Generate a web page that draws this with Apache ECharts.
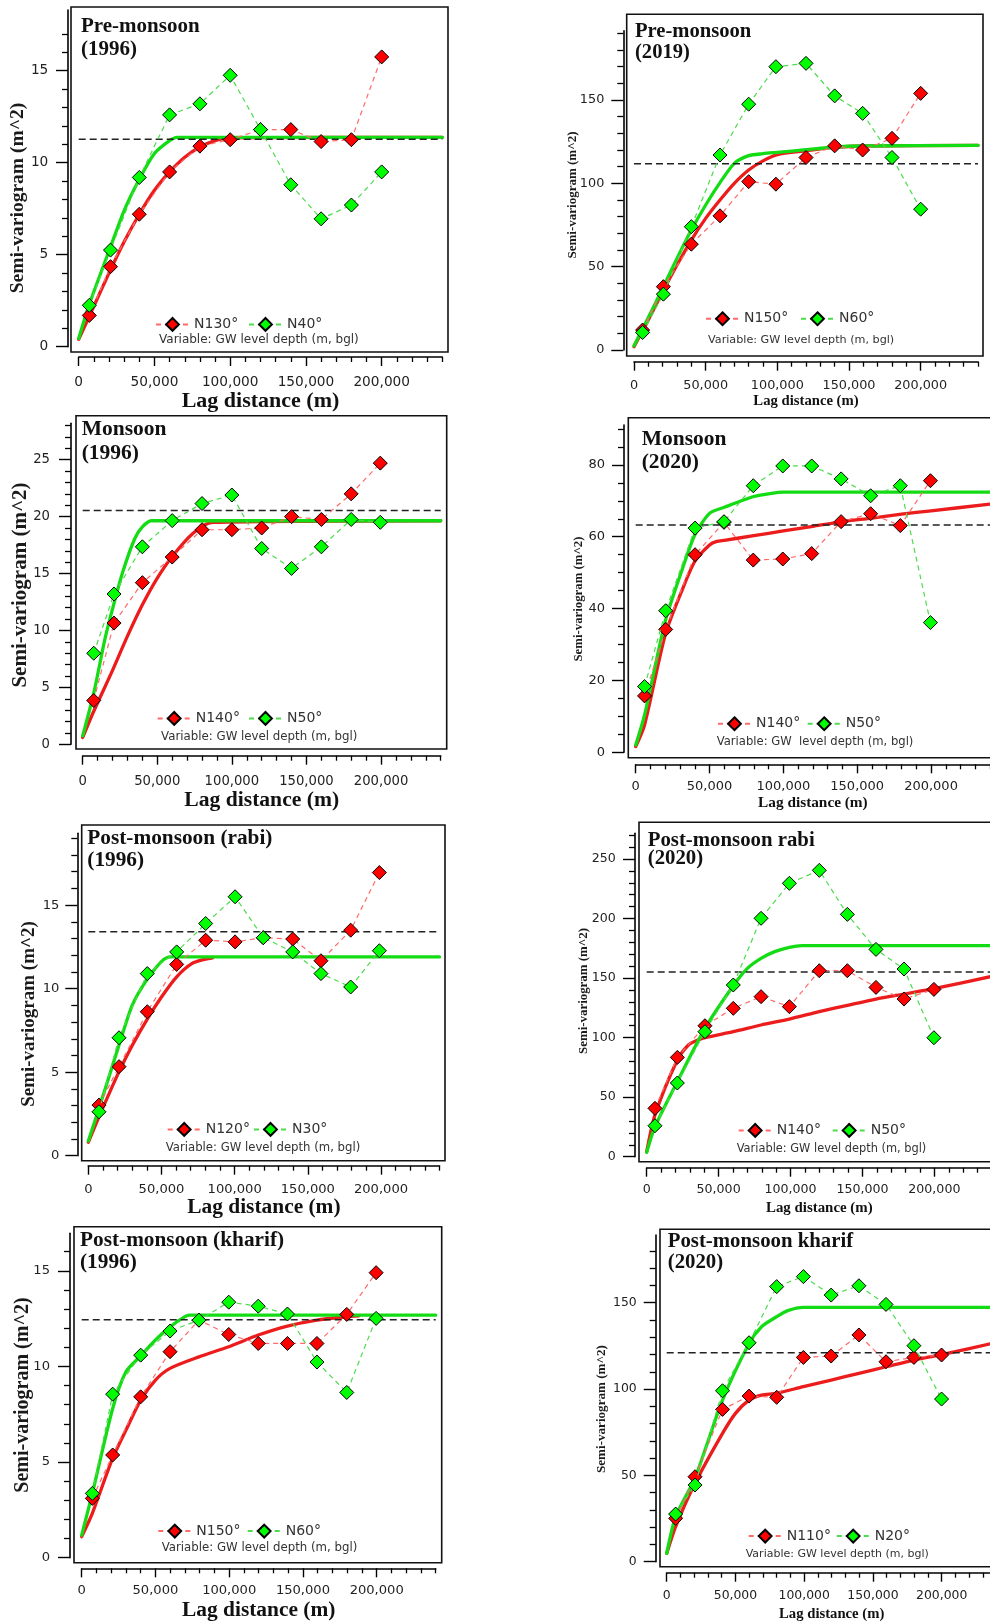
<!DOCTYPE html>
<html><head><meta charset="utf-8">
<script src="https://cdn.jsdelivr.net/npm/echarts@6/dist/echarts.min.js"></script>
<style>html,body{margin:0;padding:0;background:#fff}#c{width:990px;height:1624px}</style>
</head><body><div id="c"></div>
<script>
// ---------- DATA ----------
const xMajorTicks = [0, 50000, 100000, 150000, 200000];
const xName = 'Lag distance (m)';
const yName = 'Semi-variogram (m^2)';

// Panel 1: Pre-monsoon (1996)
const lags1 = [7000, 21000, 40000, 60000, 80000, 100000, 120000, 140000, 160000, 180000, 200000];
const n130 = [1.7, 4.35, 7.2, 9.5, 10.9, 11.25, 11.8, 11.8, 11.15, 11.25, 15.75];
const n40 = [2.25, 5.25, 9.2, 12.6, 13.2, 14.75, 11.8, 8.8, 6.95, 7.7, 9.5];
const sill1 = 11.27;
const fitRedX1 = [0, 10000, 20000, 30000, 40000, 50000, 60000, 70000, 80000, 90000, 100000, 240000];
const fitRedY1 = [0.4, 2.2, 4.0, 5.7, 7.2, 8.5, 9.5, 10.3, 10.85, 11.2, 11.35, 11.38];
const fitGreenX1 = [0, 7000, 20000, 30000, 40000, 50000, 60000, 65000, 240000];
const fitGreenY1 = [0.45, 2.3, 5.2, 7.4, 9.1, 10.5, 11.2, 11.38, 11.38];

// Panel 2: Pre-monsoon (2019)
const lags2 = [6000, 20500, 40000, 60000, 80000, 99000, 120000, 140000, 159500, 180000, 200000];
const n150a = [12, 38, 63.5, 80.5, 101, 99.5, 115.5, 122.5, 120, 127, 154];
const n60a = [10.5, 33.5, 74, 117, 147.5, 170, 172, 152.5, 142, 115.5, 84.5];
const sill2 = 111.8;
const fitRedX2 = [0, 10000, 20000, 30000, 40000, 50000, 60000, 70000, 80000, 90000, 100000, 120000, 140000, 160000, 240000];
const fitRedY2 = [2, 18, 35, 51, 66, 79, 90, 100, 108, 113.5, 117.3, 119.5, 121.6, 122.4, 122.8];
const fitGreenX2 = [0, 10000, 20000, 30000, 40000, 50000, 60000, 70000, 80000, 90000, 100000, 120000, 140000, 160000, 240000];
const fitGreenY2 = [2.6, 19.5, 37, 55, 72, 87, 100.4, 112, 116.6, 117.8, 118.6, 120.2, 121.8, 122.4, 122.8];

// Panel 3: Monsoon (1996)
const lags3 = [7400, 21000, 40000, 60000, 80000, 100000, 120000, 140000, 160000, 180000, 199500];
const n140a = [3.85, 10.65, 14.2, 16.45, 18.85, 18.85, 19.0, 20.0, 19.75, 22.0, 24.7];
const n50a = [8.0, 13.2, 17.35, 19.65, 21.15, 21.9, 17.2, 15.45, 17.35, 19.75, 19.5];
const sill3 = 20.55;
const fitRedX3 = [0, 7400, 20000, 30000, 40000, 50000, 60000, 74000, 87000, 240000];
const fitRedY3 = [0.6, 2.9, 6.5, 9.5, 12.25, 14.6, 16.5, 18.55, 19.5, 19.64];
const fitGreenX3 = [0, 7400, 15000, 20000, 27000, 35000, 40000, 46000, 240000];
const fitGreenY3 = [0.75, 4.5, 9.3, 11.9, 15.2, 18.1, 19.1, 19.64, 19.64];

// Panel 4: Monsoon (2020)
const lags4 = [6000, 20300, 40200, 59800, 79600, 99600, 119200, 139100, 159100, 179200, 199600];
const n140b = [15.7, 34.2, 55.0, 64.0, 53.5, 53.8, 55.3, 64.2, 66.4, 63.1, 75.6];
const n50b = [18.3, 39.4, 62.4, 64.2, 74.2, 79.7, 79.7, 76.1, 71.4, 74.2, 36.1];
const sill4 = 63.3;
const fitRedX4 = [0, 6000, 20000, 31000, 40000, 50000, 55000, 60000, 80000, 100000, 120000, 140000, 160000, 180000, 200000, 240000];
const fitRedY4 = [1.6, 7.6, 32.7, 44.7, 53.1, 57.7, 58.7, 59.0, 60.3, 61.6, 62.9, 64.2, 65.2, 66.3, 67.2, 69.1];
const fitGreenX4 = [0, 6000, 20000, 31000, 40000, 50000, 60000, 80000, 92000, 100000, 240000];
const fitGreenY4 = [2.0, 10.4, 36.4, 50.3, 60.5, 66.5, 68.2, 71.2, 72.1, 72.4, 72.4];

// Panel 5: Post-monsoon (rabi) (1996)
const lags5 = [7300, 21000, 40300, 60400, 80200, 100300, 119600, 139700, 159000, 179300, 198900];
const n120 = [3.03, 5.33, 8.62, 11.45, 12.9, 12.8, 13.05, 12.97, 11.67, 13.5, 16.95];
const n30 = [2.63, 7.06, 10.9, 12.2, 13.9, 15.5, 13.05, 12.2, 10.9, 10.1, 12.27];
const sill5 = 13.4;
const fitRedX5 = [0, 7300, 21000, 30000, 40300, 50000, 60400, 71000, 80200, 85000];
const fitRedY5 = [0.8, 2.33, 5.03, 6.6, 8.18, 9.5, 10.71, 11.51, 11.77, 11.85];
const fitGreenX5 = [0, 7300, 21000, 30000, 40300, 51000, 56000, 240000];
const fitGreenY5 = [0.88, 2.83, 6.62, 9.0, 10.57, 11.71, 11.9, 11.9];

// Panel 6: Post-monsoon rabi (2020)
const lags6 = [5750, 21300, 40500, 60200, 79500, 99200, 120000, 139500, 159400, 178900, 199700];
const n140c = [40.6, 83.4, 110, 124.6, 134.4, 126, 156.2, 156.2, 142.2, 132.4, 140.5];
const n50c = [26, 61.9, 105, 144.2, 200.2, 229.6, 240.5, 203.5, 174.1, 157.6, 99.9];
const sill6 = 155.1;
const fitRedX6 = [0, 5750, 21300, 29000, 34000, 40500, 60200, 79500, 99200, 120000, 139500, 159400, 178900, 199700, 240000];
const fitRedY6 = [4.2, 35, 81.2, 93.8, 97.1, 100, 105, 110.6, 115.6, 121.8, 127.1, 132.4, 136.6, 141.1, 151.5];
const fitGreenX6 = [0, 5750, 21300, 40500, 60200, 70000, 79500, 89000, 99200, 108000, 240000];
const fitGreenY6 = [3.6, 25.2, 63, 107.8, 143.6, 158.2, 166.6, 172.2, 175.8, 177.2, 177.2];

// Panel 7: Post-monsoon (kharif) (1996)
const lags7 = [7200, 21000, 40000, 59900, 79500, 99700, 119700, 139500, 159500, 179700, 199600];
const n150b = [3.1, 5.37, 8.41, 10.77, 12.42, 11.67, 11.2, 11.2, 11.2, 12.72, 14.9];
const n60b = [3.36, 8.55, 10.59, 11.85, 12.42, 13.36, 13.15, 12.74, 10.23, 8.64, 12.51];
const sill7 = 12.44;
const fitRedX7 = [0, 7200, 21000, 30000, 40000, 50000, 59900, 79500, 99700, 119700, 139500, 159500, 179700, 188000];
const fitRedY7 = [1.1, 2.32, 5.2, 6.67, 8.24, 9.29, 9.9, 10.5, 11.03, 11.64, 12.11, 12.42, 12.6, 12.65];
const fitGreenX7 = [0, 7200, 21000, 30000, 40000, 50000, 59900, 70000, 73000, 240000];
const fitGreenY7 = [1.18, 3.36, 7.8, 9.72, 10.55, 11.38, 12.07, 12.6, 12.68, 12.68];

// Panel 8: Post-monsoon kharif (2020)
const lags8 = [6500, 20600, 40600, 59900, 80000, 99400, 119600, 139800, 159500, 179800, 199900];
const n110 = [25.1, 49.2, 88.2, 95.9, 95.2, 118.3, 119.1, 131.3, 115.8, 118.3, 119.7];
const n20 = [27.6, 44.4, 99, 126.8, 159.3, 165.1, 154.4, 159.8, 149, 125.1, 94.2];
const sill8 = 121;
const fitRedX8 = [0, 6500, 20600, 40600, 50000, 59900, 69000, 80000, 99400, 119600, 139800, 159500, 179800, 199900, 240000];
const fitRedY8 = [4.8, 20.3, 45.4, 74.3, 85.9, 93.6, 96.5, 97.5, 101.4, 105.2, 109.1, 112.9, 116.8, 119.9, 127];
const fitGreenX8 = [0, 6500, 20600, 40600, 59900, 69000, 80000, 88000, 99400, 240000];
const fitGreenY8 = [4.8, 26, 48.5, 93.6, 126.4, 136.1, 141.9, 145.4, 147.3, 147.3];

// ---------- LAYOUT / STYLE ----------
const SERIF = '"Liberation Serif", "DejaVu Serif", serif';
const SANS = '"DejaVu Sans", Verdana, sans-serif';
const VAR = 'Variable: GW level depth (m, bgl)';

function multiples(step, max, skipStep) {
  const out = [];
  for (let v = step; v <= max + 1e-9; v += step) {
    const r = Math.round(v * 1000) / 1000;
    if (skipStep && Math.abs(r / skipStep - Math.round(r / skipStep)) < 1e-6) continue;
    out.push(r);
  }
  return out;
}

const panels = [
  {title:'Pre-monsoon\n(1996)', rn:'N130°', gn:'N40°', lags:lags1, red:n130, green:n40, sill:sill1,
   frx:fitRedX1, fry:fitRedY1, fgx:fitGreenX1, fgy:fitGreenY1,
   yMax:18.3, yMajor:[0,5,10,15], yStep:1, yMinorMax:17,
   box:[71,7,377,345], grid:[78.7,10,363.6,336.7], yOff:10.7, xOff:10.3,
   t:[81,15.5,21,23], yn:[18,198,19.5], xnf:22, xng:32, tf:13.7, xlm:18, ylm:19.7,
   lg:[155,248,325], v:[159,341,12], vt:VAR},
  {title:'Pre-monsoon\n(2019)', rn:'N150°', gn:'N60°', lags:lags2, red:n150a, green:n60a, sill:sill2,
   frx:fitRedX2, fry:fitRedY2, fgx:fitGreenX2, fgy:fitGreenY2,
   yMax:191.6, yMajor:[0,50,100,150], yStep:10, yMinorMax:190,
   box:[626.7,14.3,356.3,341.7], grid:[634,30.7,344,319.3], yOff:10.7, xOff:11.7,
   t:[635,21,20.6,21.3], yn:[573,195,13], xnf:14.7, xng:32.5, tf:12.8, xlm:17, ylm:19,
   lg:[705,800,319.3], v:[708,341,11.2], vt:VAR},
  {title:'Monsoon\n(1996)', rn:'N140°', gn:'N50°', lags:lags3, red:n140a, green:n50a, sill:sill3,
   frx:fitRedX3, fry:fitRedY3, fgx:fitGreenX3, fgy:fitGreenY3,
   yMax:28.2, yMajor:[0,5,10,15,20,25], yStep:1, yMinorMax:28,
   box:[76,415.7,370.7,333.3], grid:[82.7,423.3,358,321], yOff:11.7, xOff:11.4,
   t:[81.7,417,21.5,24], yn:[21,585,21], xnf:21.6, xng:33.3, tf:13.2, xlm:19, ylm:21,
   lg:[156.7,248,719], v:[161,737.7,11.8], vt:VAR},
  {title:'Monsoon\n(2020)', rn:'N140°', gn:'N50°', lags:lags4, red:n140b, green:n50b, sill:sill4,
   frx:fitRedX4, fry:fitRedY4, fgx:fitGreenX4, fgy:fitGreenY4,
   yMax:91.1, yMajor:[0,20,40,60,80], yStep:5, yMinorMax:90,
   box:[628.3,417.7,371.7,340], grid:[635.7,425,354.4,327.3], yOff:11.7, xOff:12,
   t:[641.7,428,21.5,23.3], yn:[579,599,12.8], xnf:15.3, xng:31.5, tf:13, xlm:16, ylm:19,
   lg:[717,806.7,724.3], v:[716.7,743.3,11.6], vt:'Variable: GW  level depth (m, bgl)'},
  {title:'Post-monsoon (rabi)\n(1996)', rn:'N120°', gn:'N30°', lags:lags5, red:n120, green:n30, sill:sill5,
   frx:fitRedX5, fry:fitRedY5, fgx:fitGreenX5, fgy:fitGreenY5,
   yMax:19.3, yMajor:[0,5,10,15], yStep:1, yMinorMax:19,
   box:[81.7,825,363.3,335.7], grid:[88.3,833.3,351.2,322.4], yOff:11, xOff:10,
   t:[87.3,827.5,21.3,21.7], yn:[29,1014,19], xnf:21.4, xng:31, tf:13.1, xlm:17, ylm:18,
   lg:[166.7,253,1130], v:[165.7,1149,11.7], vt:VAR},
  {title:'Post-monsoon rabi\n(2020)', rn:'N140°', gn:'N50°', lags:lags6, red:n140c, green:n50c, sill:sill6,
   frx:fitRedX6, fry:fitRedY6, fgx:fitGreenX6, fgy:fitGreenY6,
   yMax:271.6, yMajor:[0,50,100,150,200,250], yStep:10, yMinorMax:270,
   box:[639,822.3,361,339.4], grid:[646.7,833.3,345.2,323.4], yOff:11.7, xOff:11,
   t:[647.7,831,20.8,18.5], yn:[583.3,991,12.9], xnf:14.9, xng:32.5, tf:12.6, xlm:16, ylm:19.3,
   lg:[737.7,831.7,1131], v:[736.7,1150,11.4], vt:VAR},
  {title:'Post-monsoon (kharif)\n(1996)', rn:'N150°', gn:'N60°', lags:lags7, red:n150b, green:n60b, sill:sill7,
   frx:fitRedX7, fry:fitRedY7, fgx:fitGreenX7, fgy:fitGreenY7,
   yMax:16.96, yMajor:[0,5,10,15], yStep:1, yMinorMax:16,
   box:[74,1226.7,367.7,336], grid:[81.7,1233.3,354,324.4], yOff:11.7, xOff:10.6,
   t:[80,1229.7,21.3,22], yn:[22.7,1395,20], xnf:21.4, xng:31.4, tf:13.1, xlm:16, ylm:20,
   lg:[157.3,246.7,1531.7], v:[161.7,1549.3,11.75], vt:VAR},
  {title:'Post-monsoon kharif\n(2020)', rn:'N110°', gn:'N20°', lags:lags8, red:n110, green:n20, sill:sill8,
   frx:fitRedX8, fry:fitRedY8, fgx:fitGreenX8, fgy:fitGreenY8,
   yMax:189.2, yMajor:[0,50,100,150], yStep:10, yMinorMax:180,
   box:[660,1229.3,340,337.4], grid:[666.7,1235,330,326.7], yOff:11, xOff:11,
   t:[667.7,1231.2,20.8,21], yn:[601.7,1409,13.1], xnf:14.7, xng:33.8, tf:12.4, xlm:17, ylm:19,
   lg:[747.7,835.7,1536.7], v:[745.7,1555,11], vt:VAR}
];

const RED_FIT = '#ec1c1c', GREEN_FIT = '#14dc14';
const RED_PT = '#ff0000', GREEN_PT = '#00ff00';
const RED_DASH = '#ff6b6b', GREEN_DASH = '#4cdc4c';
const xMinorTicks = multiples(10000, 240000, 50000);

const grid = [], xAxis = [], yAxis = [], series = [], legend = [], title = [], graphic = [];

panels.forEach(function (p) {
  // frame box
  const bi = grid.length;
  grid.push({left:p.box[0], top:p.box[1], width:p.box[2], height:p.box[3], show:true,
    borderColor:'#111', borderWidth:1.6, backgroundColor:'#fff', containLabel:false, outerBoundsMode:'none'});
  xAxis.push({gridIndex:bi, type:'value', show:false, min:0, max:1});
  yAxis.push({gridIndex:bi, type:'value', show:false, min:0, max:1});
  // data area
  const di = grid.length;
  grid.push({left:p.grid[0], top:p.grid[1], width:p.grid[2], height:p.grid[3], show:false,
    containLabel:false, outerBoundsMode:'none'});
  const xi = xAxis.length;
  xAxis.push({gridIndex:di, type:'value', min:0, max:240000, position:'bottom', offset:p.xOff,
    axisLine:{show:true, onZero:false, lineStyle:{color:'#000', width:1.6}},
    axisTick:{show:true, customValues:xMajorTicks, length:9, lineStyle:{color:'#000', width:1.4}},
    axisLabel:{show:true, customValues:xMajorTicks, margin:p.xlm, fontSize:p.tf, fontFamily:SANS, color:'#222'},
    splitLine:{show:false},
    name:xName, nameLocation:'middle', nameGap:p.xng,
    nameTextStyle:{fontFamily:SERIF, fontWeight:'bold', fontSize:p.xnf, color:'#111'}});
  xAxis.push({gridIndex:di, type:'value', min:0, max:240000, position:'bottom', offset:p.xOff,
    axisLine:{show:false, onZero:false},
    axisTick:{show:true, customValues:xMinorTicks, length:5, lineStyle:{color:'#000', width:1.3}},
    axisLabel:{show:false}, splitLine:{show:false}});
  const yi = yAxis.length;
  yAxis.push({gridIndex:di, type:'value', min:0, max:p.yMax, position:'left', offset:p.yOff,
    axisLine:{show:true, onZero:false, lineStyle:{color:'#000', width:1.6}},
    axisTick:{show:true, customValues:p.yMajor, length:12, lineStyle:{color:'#000', width:1.4}},
    axisLabel:{show:true, customValues:p.yMajor, margin:p.ylm, fontSize:p.tf, fontFamily:SANS, color:'#222'},
    splitLine:{show:false}});
  yAxis.push({gridIndex:di, type:'value', min:0, max:p.yMax, position:'left', offset:p.yOff,
    axisLine:{show:false, onZero:false},
    axisTick:{show:true, customValues:multiples(p.yStep, p.yMinorMax, p.yMajor[1]), length:6, lineStyle:{color:'#000', width:1.3}},
    axisLabel:{show:false}, splitLine:{show:false}});

  const common = {type:'line', xAxisIndex:xi, yAxisIndex:yi, animation:false};
  series.push(Object.assign({}, common, {
    data:p.frx.map(function (x, k) { return [x, p.fry[k]]; }),
    symbol:'none', smooth:0.25, lineStyle:{color:RED_FIT, width:3.3, cap:'round', join:'round'}, z:2, silent:true}));
  series.push(Object.assign({}, common, {
    data:p.fgx.map(function (x, k) { return [x, p.fgy[k]]; }),
    symbol:'none', smooth:0.25, lineStyle:{color:GREEN_FIT, width:3.3, cap:'round', join:'round'}, z:3, silent:true}));
  series.push(Object.assign({}, common, {
    data:[[0, p.sill], [240000, p.sill]],
    symbol:'none', lineStyle:{color:'#222', width:1.5, type:[7, 4]}, z:4, silent:true}));
  series.push(Object.assign({}, common, {
    name:p.rn, data:p.lags.map(function (x, k) { return [x, p.red[k]]; }),
    symbol:'diamond', symbolSize:14,
    itemStyle:{color:RED_PT, borderColor:'#000', borderWidth:1},
    lineStyle:{color:RED_DASH, width:1.2, type:[5, 4]}, z:5}));
  series.push(Object.assign({}, common, {
    name:p.gn, data:p.lags.map(function (x, k) { return [x, p.green[k]]; }),
    symbol:'diamond', symbolSize:14,
    itemStyle:{color:GREEN_PT, borderColor:'#000', borderWidth:1},
    lineStyle:{color:GREEN_DASH, width:1.2, type:[5, 4]}, z:6}));

  [[p.rn, p.lg[0]], [p.gn, p.lg[1]]].forEach(function (e) {
    legend.push({data:[e[0]], left:e[1], top:p.lg[2] - 8, padding:0, itemWidth:33, itemHeight:16,
      selectedMode:false, textStyle:{fontFamily:SANS, fontSize:14, color:'#333'}});
  });

  title.push({text:p.title, left:p.t[0], top:p.t[1], padding:0,
    textStyle:{fontFamily:SERIF, fontWeight:'bold', fontSize:p.t[2], lineHeight:p.t[3], color:'#111'}});
  title.push({text:p.vt, left:p.v[0], top:p.v[1] - p.v[2] * 0.6, padding:0,
    textStyle:{fontFamily:SANS, fontWeight:'normal', fontSize:p.v[2], color:'#333'}});

  graphic.push({type:'text', x:p.yn[0], y:p.yn[1], rotation:Math.PI / 2, silent:true,
    style:{text:yName, fontFamily:SERIF, fontWeight:'bold', fontSize:p.yn[2], fill:'#1a1a1a',
      align:'center', verticalAlign:'middle', textAlign:'center', textVerticalAlign:'middle'}});
});

const chart = echarts.init(document.getElementById('c'), null, {renderer:'canvas', width:990, height:1624});
chart.setOption({
  backgroundColor:'#ffffff',
  animation:false,
  grid:grid, xAxis:xAxis, yAxis:yAxis, series:series, legend:legend, title:title, graphic:graphic
});
</script>
</body></html>
